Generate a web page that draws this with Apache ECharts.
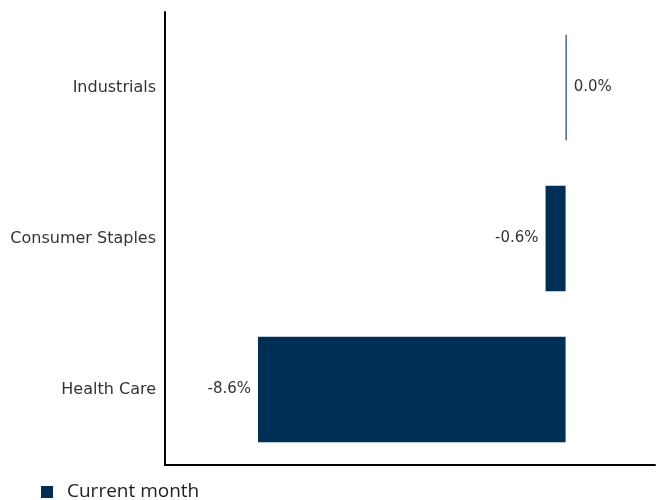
<!DOCTYPE html>
<html><head><meta charset="utf-8">
<script src="https://cdn.jsdelivr.net/npm/echarts@6/dist/echarts.min.js"></script>
<style>html,body{margin:0;padding:0;background:#fff}#c{width:657px;height:500px}</style>
</head><body><div id="c"></div>
<script>
const categories = ['Health Care', 'Consumer Staples', 'Industrials'];
const values = [-8.6, -0.56, 0.03];
const seriesName = 'Current month';

const chart = echarts.init(document.getElementById('c'));
chart.setOption({
  animation: false,
  grid: {left: 165, right: 2, top: 12, bottom: 35, containLabel: false},
  legend: {
    left: 36, top: 477, itemWidth: 12, itemHeight: 12, itemGap: 10,
    icon: 'rect',
    textStyle: {fontFamily: 'Open Sans', fontSize: 19, lineHeight: 20, color: '#222', padding: [0,0,0,9]},
    data: [seriesName]
  },
  xAxis: {
    type: 'value', min: -11.2, max: 2.5,
    axisLine: {show: true, onZero: false, lineStyle: {color: '#000', width: 2}},
    axisTick: {show: false}, axisLabel: {show: false}, splitLine: {show: false}
  },
  yAxis: {
    type: 'category', data: categories,
    axisLine: {show: true, onZero: false, lineStyle: {color: '#000', width: 2}},
    axisTick: {show: false},
    axisLabel: {fontFamily: 'DejaVu Sans', fontSize: 16, color: '#333', margin: 9}
  },
  series: [{
    name: seriesName, type: 'bar', barWidth: '70%',
    itemStyle: {color: '#002F56'},
    data: values.map(v => ({
      value: v,
      label: {show: true, position: v < 0 ? 'left' : 'right', distance: 7,
        formatter: p => p.value.toFixed(1) + '%',
        fontFamily: 'DejaVu Sans', fontSize: 15, color: '#333'}
    }))
  }]
});
</script></body></html>
